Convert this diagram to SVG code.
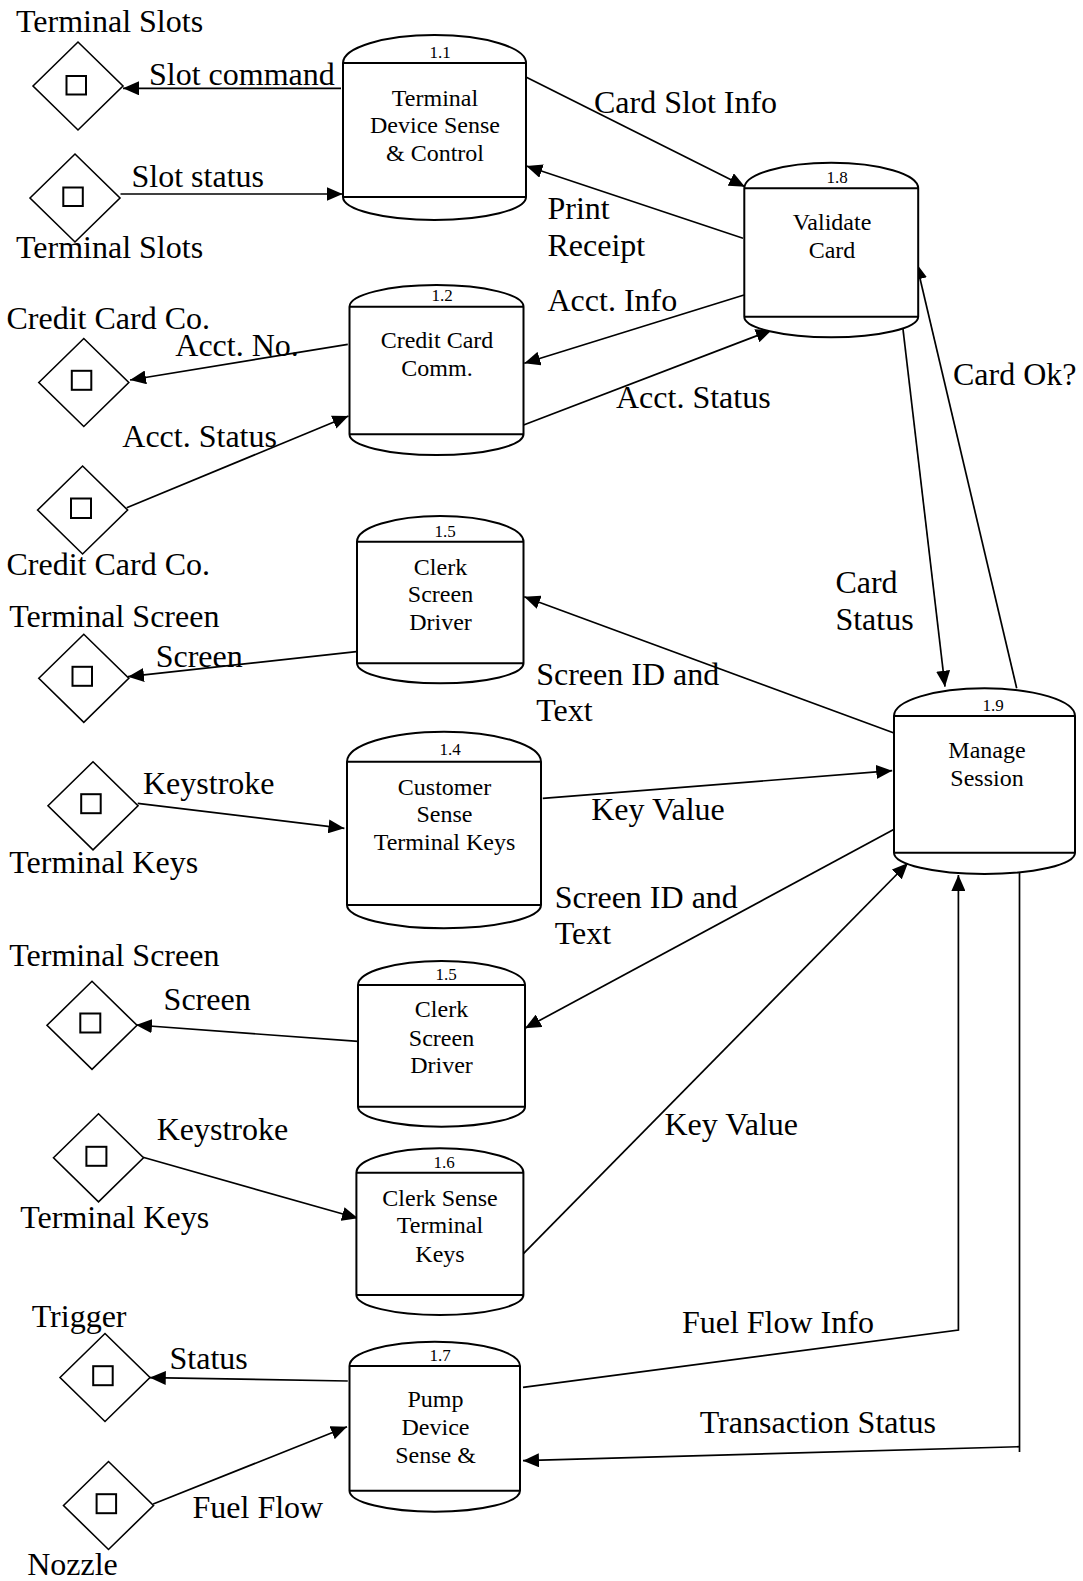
<svg xmlns="http://www.w3.org/2000/svg" width="1083" height="1581" viewBox="0 0 1083 1581">
<defs>
<style>
.bg{fill:#ffffff}
.node{fill:#ffffff;stroke:#000;stroke-width:2}
.ln{fill:none;stroke:#000;stroke-width:2}
.dia{fill:#ffffff;stroke:#000;stroke-width:1.6}
.sq{fill:none;stroke:#000;stroke-width:2}
.conn{fill:none;stroke:#000;stroke-width:1.7;marker-end:url(#ah)}
.plain{fill:none;stroke:#000;stroke-width:1.7}
text{font-family:"Liberation Serif","Times New Roman",serif;fill:#000}
.lbl{font-size:32px}
.nt{font-size:24px;text-anchor:middle}
.num{font-size:17px;text-anchor:middle}
</style>
<marker id="ah" viewBox="0 0 16 14" refX="16" refY="7" markerWidth="16" markerHeight="14" markerUnits="userSpaceOnUse" orient="auto">
<path d="M0,0 L16,7 L0,14 z" fill="#000"/>
</marker>
</defs>
<rect class="bg" x="0" y="0" width="1083" height="1581"/>

<g id="connectors">
<path class="conn" d="M341,88.3 L123,88.3"/>
<path class="conn" d="M120.5,194 L342.6,194"/>
<path class="conn" d="M525.4,76.7 L745,186.7"/>
<path class="conn" d="M743,238.3 L526.4,166"/>
<path class="conn" d="M347.8,344.3 L130,380"/>
<path class="conn" d="M126.7,507.7 L348.5,416"/>
<path class="conn" d="M744,295 L524.3,363.3"/>
<path class="conn" d="M523.6,425 L771.8,330"/>
<path class="conn" d="M1016.7,688.3 L916.4,263.3"/>
<path class="conn" d="M902.9,328.3 L945,686.7"/>
<path class="conn" d="M356.4,651.7 L128,676.7"/>
<path class="conn" d="M893.3,732.7 L524.2,596.7"/>
<path class="conn" d="M137.7,803.3 L344.4,828.3"/>
<path class="conn" d="M542.8,798.3 L892.2,770.7"/>
<path class="conn" d="M896,828.3 L525,1028.3"/>
<path class="conn" d="M361.6,1041.7 L136,1025"/>
<path class="conn" d="M143,1157.3 L358,1218.3"/>
<path class="conn" d="M520.5,1256.7 L908,863"/>
<path class="conn" d="M347.8,1381 L149.8,1377.7"/>
<path class="conn" d="M153.2,1504 L347,1426.7"/>
<path class="conn" d="M523,1387.3 L958.4,1330 L958.4,875"/>
<path class="plain" d="M1019.5,873 L1019.5,1452"/>
<path class="conn" d="M1019.5,1446.7 L523,1460.7"/>
</g>

<g id="node-1-1">
<path class="node" d="M343,63 A91.5,28 0 0 1 526,63 L526,197 A91.5,23 0 0 1 343,197 Z"/>
<path class="ln" d="M343,63 H526 M343,197 H526"/>
<text class="num" x="440" y="57.5">1.1</text>
<text class="nt" x="435" y="106">Terminal</text>
<text class="nt" x="435" y="133.3">Device Sense</text>
<text class="nt" x="435" y="160.7">&amp; Control</text>
</g>

<g id="node-1-2">
<path class="node" d="M349.5,306.7 A87,21.7 0 0 1 523.5,306.7 L523.5,434.3 A87,20.7 0 0 1 349.5,434.3 Z"/>
<path class="ln" d="M349.5,306.7 H523.5 M349.5,434.3 H523.5"/>
<text class="num" x="442" y="301">1.2</text>
<text class="nt" x="437" y="348.3">Credit Card</text>
<text class="nt" x="437" y="376">Comm.</text>
</g>

<g id="node-1-5a">
<path class="node" d="M357,541.7 A83.25,25.7 0 0 1 523.5,541.7 L523.5,663.3 A83.25,20 0 0 1 357,663.3 Z"/>
<path class="ln" d="M357,541.7 H523.5 M357,663.3 H523.5"/>
<text class="num" x="445" y="537">1.5</text>
<text class="nt" x="440.5" y="575">Clerk</text>
<text class="nt" x="440.5" y="601.7">Screen</text>
<text class="nt" x="440.5" y="630">Driver</text>
</g>

<g id="node-1-4">
<path class="node" d="M347,761.7 A97,30 0 0 1 541,761.7 L541,905 A97,23.3 0 0 1 347,905 Z"/>
<path class="ln" d="M347,761.7 H541 M347,905 H541"/>
<text class="num" x="450" y="755">1.4</text>
<text class="nt" x="444.5" y="795">Customer</text>
<text class="nt" x="444.5" y="821.7">Sense</text>
<text class="nt" x="444.5" y="850">Terminal Keys</text>
</g>

<g id="node-1-5b">
<path class="node" d="M358,985 A83.5,24 0 0 1 525,985 L525,1106.7 A83.5,20 0 0 1 358,1106.7 Z"/>
<path class="ln" d="M358,985 H525 M358,1106.7 H525"/>
<text class="num" x="446" y="980">1.5</text>
<text class="nt" x="441.5" y="1017.3">Clerk</text>
<text class="nt" x="441.5" y="1045.7">Screen</text>
<text class="nt" x="441.5" y="1073.3">Driver</text>
</g>

<g id="node-1-6">
<path class="node" d="M356.4,1172.7 A83.5,24.4 0 0 1 523.4,1172.7 L523.4,1295 A83.5,20 0 0 1 356.4,1295 Z"/>
<path class="ln" d="M356.4,1172.7 H523.4 M356.4,1295 H523.4"/>
<text class="num" x="444" y="1168">1.6</text>
<text class="nt" x="440" y="1206">Clerk Sense</text>
<text class="nt" x="440" y="1233.3">Terminal</text>
<text class="nt" x="440" y="1261.7">Keys</text>
</g>

<g id="node-1-7">
<path class="node" d="M349.5,1366 A85.25,24.3 0 0 1 520,1366 L520,1490.7 A85.25,21 0 0 1 349.5,1490.7 Z"/>
<path class="ln" d="M349.5,1366 H520 M349.5,1490.7 H520"/>
<text class="num" x="440" y="1361">1.7</text>
<text class="nt" x="435.5" y="1407.3">Pump</text>
<text class="nt" x="435.5" y="1435">Device</text>
<text class="nt" x="435.5" y="1462.7">Sense &amp;</text>
</g>

<g id="node-1-8">
<path class="node" d="M744.3,188.3 A86.95,25.6 0 0 1 918.2,188.3 L918.2,316.7 A86.95,20.6 0 0 1 744.3,316.7 Z"/>
<path class="ln" d="M744.3,188.3 H918.2 M744.3,316.7 H918.2"/>
<text class="num" x="837" y="183">1.8</text>
<text class="nt" x="832" y="230">Validate</text>
<text class="nt" x="832" y="258.3">Card</text>
</g>

<g id="node-1-9">
<path class="node" d="M894,716 A90.5,27.7 0 0 1 1075,716 L1075,852.7 A90.5,21.3 0 0 1 894,852.7 Z"/>
<path class="ln" d="M894,716 H1075 M894,852.7 H1075"/>
<text class="num" x="993" y="711">1.9</text>
<text class="nt" x="987" y="758.3">Manage</text>
<text class="nt" x="987" y="786">Session</text>
</g>

<g id="ext-terminal-slots-1">
<path class="dia" d="M33,86 L78,42 L123,86 L78,130 Z"/>
<rect class="sq" x="66.5" y="76" width="19.5" height="18.5"/>
</g>
<g id="ext-terminal-slots-2">
<path class="dia" d="M30,198 L75,154 L120,198 L75,242 Z"/>
<rect class="sq" x="63.3" y="187.5" width="19.5" height="18.5"/>
</g>
<g id="ext-credit-card-1">
<path class="dia" d="M38.8,382.5 L83.8,338.5 L128.8,382.5 L83.8,426.5 Z"/>
<rect class="sq" x="71.8" y="370.8" width="19.5" height="19"/>
</g>
<g id="ext-credit-card-2">
<path class="dia" d="M37.6,510 L82.6,466 L127.6,510 L82.6,554 Z"/>
<rect class="sq" x="71" y="498.5" width="20" height="19.5"/>
</g>
<g id="ext-terminal-screen-1">
<path class="dia" d="M38.8,678.3 L83.8,634.3 L128.8,678.3 L83.8,722.3 Z"/>
<rect class="sq" x="72.5" y="666.8" width="19.5" height="19"/>
</g>
<g id="ext-terminal-keys-1">
<path class="dia" d="M48,805.8 L93,761.8 L138,805.8 L93,849.8 Z"/>
<rect class="sq" x="81.2" y="794.2" width="19.5" height="19"/>
</g>
<g id="ext-terminal-screen-2">
<path class="dia" d="M47,1025.3 L92,981.3 L137,1025.3 L92,1069.3 Z"/>
<rect class="sq" x="80.3" y="1013.5" width="20" height="19"/>
</g>
<g id="ext-terminal-keys-2">
<path class="dia" d="M53.5,1157.8 L98.5,1113.8 L143.5,1157.8 L98.5,1201.8 Z"/>
<rect class="sq" x="86.4" y="1146.8" width="20" height="19"/>
</g>
<g id="ext-trigger">
<path class="dia" d="M60,1377.5 L105,1333.5 L150,1377.5 L105,1421.5 Z"/>
<rect class="sq" x="93.2" y="1366.2" width="19.5" height="19"/>
</g>
<g id="ext-nozzle">
<path class="dia" d="M63.5,1505.5 L108.5,1461.5 L153.5,1505.5 L108.5,1549.5 Z"/>
<rect class="sq" x="96.6" y="1494.2" width="19.5" height="19"/>
</g>

<g id="labels">
<text class="lbl" x="16" y="31.7">Terminal Slots</text>
<text class="lbl" x="149" y="85">Slot command</text>
<text class="lbl" x="131.5" y="186.7">Slot status</text>
<text class="lbl" x="16" y="258">Terminal Slots</text>
<text class="lbl" x="594" y="112.7">Card Slot Info</text>
<text class="lbl" x="547.5" y="219.3">Print</text>
<text class="lbl" x="547.5" y="256">Receipt</text>
<text class="lbl" x="6.5" y="329.3">Credit Card Co.</text>
<text class="lbl" x="175.3" y="356">Acct. No.</text>
<text class="lbl" x="547.5" y="310.7">Acct. Info</text>
<text class="lbl" x="616" y="408.3">Acct. Status</text>
<text class="lbl" x="953" y="385">Card Ok?</text>
<text class="lbl" x="122.3" y="446.7">Acct. Status</text>
<text class="lbl" x="6.5" y="575">Credit Card Co.</text>
<text class="lbl" x="835.4" y="593.3">Card</text>
<text class="lbl" x="835.4" y="630">Status</text>
<text class="lbl" x="9.3" y="626.7">Terminal Screen</text>
<text class="lbl" x="155.7" y="666.7">Screen</text>
<text class="lbl" x="536.2" y="685">Screen ID and</text>
<text class="lbl" x="536.2" y="720.7">Text</text>
<text class="lbl" x="143" y="794">Keystroke</text>
<text class="lbl" x="591.2" y="820">Key Value</text>
<text class="lbl" x="9.3" y="873.3">Terminal Keys</text>
<text class="lbl" x="554.8" y="908.3">Screen ID and</text>
<text class="lbl" x="554.8" y="944">Text</text>
<text class="lbl" x="9.3" y="966">Terminal Screen</text>
<text class="lbl" x="163.6" y="1010">Screen</text>
<text class="lbl" x="156.7" y="1140">Keystroke</text>
<text class="lbl" x="664.4" y="1135">Key Value</text>
<text class="lbl" x="20.3" y="1228.3">Terminal Keys</text>
<text class="lbl" x="31.7" y="1326.7">Trigger</text>
<text class="lbl" x="169.5" y="1369.3">Status</text>
<text class="lbl" x="681.9" y="1333.3">Fuel Flow Info</text>
<text class="lbl" x="699.7" y="1433.3">Transaction Status</text>
<text class="lbl" x="192.5" y="1518.3">Fuel Flow</text>
<text class="lbl" x="27.2" y="1575">Nozzle</text>
</g>
</svg>
